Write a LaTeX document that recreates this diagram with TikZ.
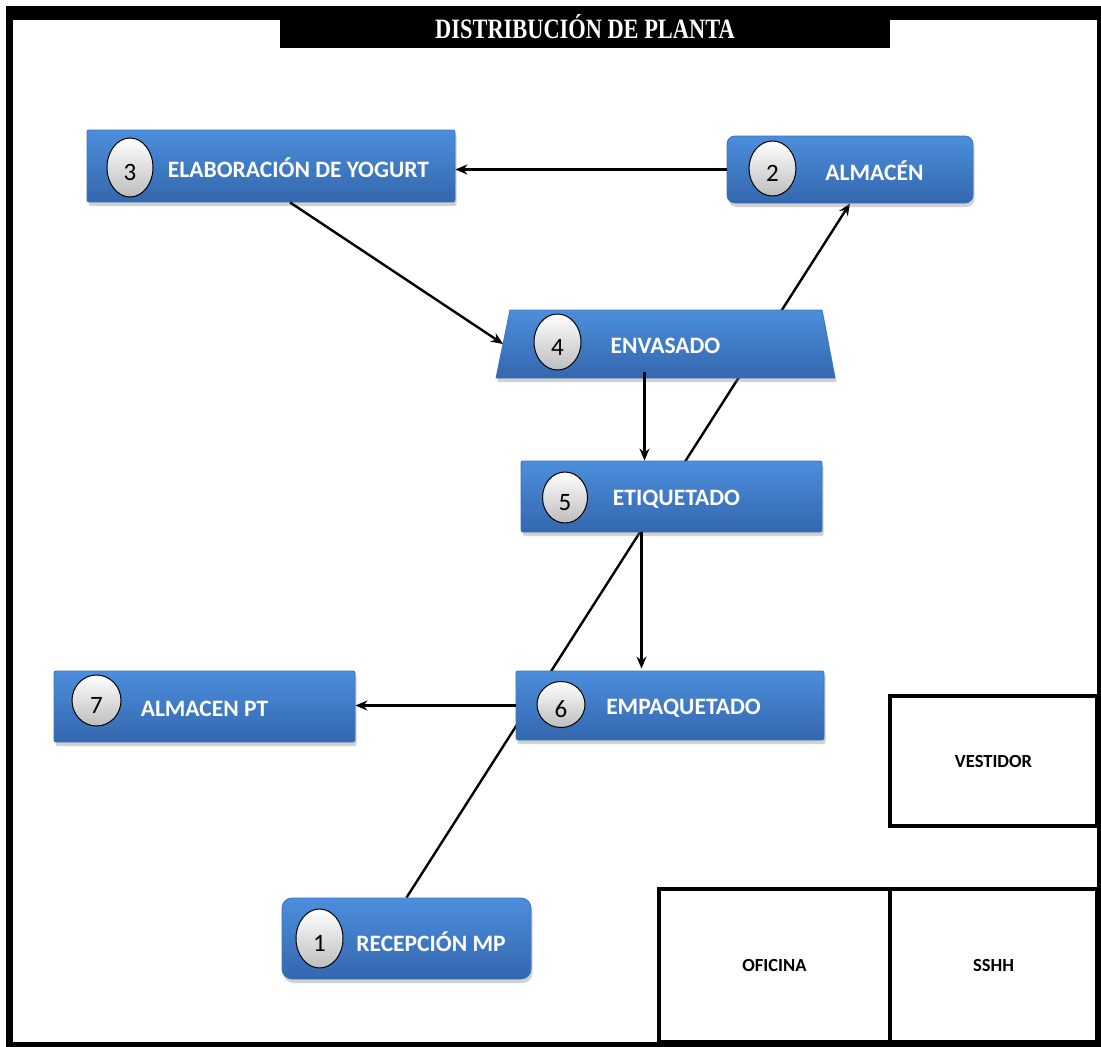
\documentclass[tikz,border=0pt]{standalone}
\usepackage{fontspec}
\setmainfont{Carlito}
\newfontfamily\titlefont[FakeStretch=0.8]{Liberation Serif}
\usetikzlibrary{shapes.geometric,shadows,arrows.meta,calc}
\pgfdeclarelayer{bg}
\pgfsetlayers{bg,main}
\definecolor{boxtop}{HTML}{4C8EDC}
\definecolor{boxbot}{HTML}{3467AE}
\definecolor{boxedge}{HTML}{3A72BC}
\definecolor{circbot}{HTML}{BDBDBD}
\tikzset{
  boxlook/.style={draw=boxedge, line width=0.8pt, top color=boxtop, bottom color=boxbot, drop shadow={shadow xshift=1.5pt, shadow yshift=-4pt, opacity=0.35}},
  pbox/.style={rectangle, rounded corners=2pt, boxlook},
  lbl/.style={text=white, font=\bfseries\fontsize{23.5}{28}\selectfont, inner sep=0pt},
  num/.style={ellipse, draw=black, line width=1pt, top color=white, bottom color=circbot, font=\fontsize{25}{30}\selectfont, inner sep=0pt, text height=26pt, text depth=0pt},
  arr/.style={line width=2.4pt, -{Stealth[length=12pt,width=10pt]}},
  room/.style={rectangle, draw=black, line width=4pt, font=\bfseries\fontsize{18.5}{22}\selectfont, inner sep=0pt},
}
\begin{document}
\begin{tikzpicture}[x=1pt,y=-1pt]
\useasboundingbox (0,0) rectangle (1101,1047);
\begin{pgfonlayer}{bg}
\fill[white] (0,0) rectangle (1101,1047);
\fill[black] (6,6) rectangle (1101,1047);
\fill[white] (13,20) rectangle (1097,1042);
\end{pgfonlayer}
% title
\node[fill=black, text=white, minimum width=610pt, minimum height=42pt, inner sep=0pt, font=\titlefont\bfseries\fontsize{28}{32}\selectfont] (title) at (585,27) {DISTRIBUCIÓN DE PLANTA};
% process boxes
\node[pbox, minimum width=368pt, minimum height=72pt] (b3) at (271,166) {};
\node[pbox, rounded corners=8pt, minimum width=246pt, minimum height=67pt] (b2) at (850,169.5) {};
\node[rectangle, inner sep=0pt, outer sep=0pt, minimum width=339pt, minimum height=68pt] (b4) at (665.5,344) {};
\path[boxlook] (b4.south west) -- ($(b4.north west)+(14,0)$) -- ($(b4.north east)+(-13,0)$) -- (b4.south east) -- cycle;
\coordinate (b4l) at ($(b4.south west)!0.5!($(b4.north west)+(14,0)$)$);
\node[pbox, minimum width=301pt, minimum height=71pt] (b5) at (671.5,496.5) {};
\node[pbox, minimum width=308pt, minimum height=69pt] (b6) at (670,705.5) {};
\node[pbox, minimum width=301pt, minimum height=71pt] (b7) at (204.5,706.5) {};
\node[pbox, rounded corners=10pt, minimum width=249pt, minimum height=81pt] (b1) at (406.5,938.5) {};
% labels
\node[lbl] (t3) at (298.5,168) {ELABORACIÓN DE YOGURT};
\node[lbl] (t2) at (874.5,171) {ALMACÉN};
\node[lbl] (t4) at (665.5,346) {ENVASADO};
\node[lbl] (t5) at (676.5,499) {ETIQUETADO};
\node[lbl] (t6) at (683.5,708) {EMPAQUETADO};
\node[lbl] (t7) at (204.5,709) {ALMACEN PT};
\node[lbl] (t1) at (431,942) {RECEPCIÓN MP};
% number ellipses
\node[num, minimum width=46pt, minimum height=59pt] (c3) at (130,167.5) {3};
\node[num, minimum width=47pt, minimum height=55pt] (c2) at (772.5,168.5) {2};
\node[num, minimum width=47pt, minimum height=56pt] (c4) at (557.5,342) {4};
\node[num, minimum width=45pt, minimum height=51pt] (c5) at (565,497.5) {5};
\node[num, minimum width=48pt, minimum height=46pt] (c6) at (561,704.5) {6};
\node[num, minimum width=49pt, minimum height=51pt] (c7) at (96.5,700.5) {7};
\node[num, minimum width=47pt, minimum height=59pt] (c1) at (319.5,938.5) {1};
% rooms
\node[room, minimum width=207pt, minimum height=130pt] (vest) at (993.5,761) {VESTIDOR};
\node[room, minimum width=231pt, minimum height=153pt] (ofi) at (774.5,965.5) {OFICINA};
\node[room, minimum width=207pt, minimum height=153pt] (sshh) at (993.5,965.5) {SSHH};
% connectors
\draw[arr] (b2.west) -- (b3.east |- b2.west);
\draw[arr] ($(b3.south)+(19,0)$) -- (b4l);
\draw[arr] ($(b4.south)+(-21,-6)$) -- ($(b5.north)+(-27,0)$);
\draw[arr] ($(b5.south)+(-30,0)$) -- ($(b6.north)+(-28.5,-2)$);
\draw[arr] (b6.west) -- (b7.east |- b6.west);
\begin{pgfonlayer}{bg}
\draw[arr] (b1.north) -- (b2.south);
\end{pgfonlayer}
\end{tikzpicture}
\end{document}
